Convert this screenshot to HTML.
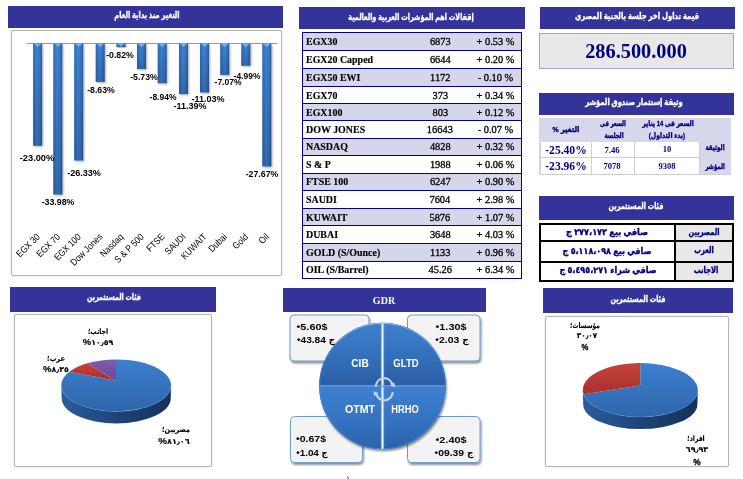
<!DOCTYPE html>
<html lang="ar"><head><meta charset="utf-8"><title>Market Summary</title>
<style>
html,body{margin:0;padding:0;background:#fff;}
body{width:743px;height:479px;position:relative;overflow:hidden;font-family:"Liberation Sans","DejaVu Sans",sans-serif;}
.abs{position:absolute;}
.ft,.ft2{position:absolute;white-space:pre;line-height:1;display:block;}
.hdr{position:absolute;background:#333399;}
.box{position:absolute;border:1px solid #b5b5b5;border-radius:2px;box-sizing:border-box;background:#fff;box-shadow:0 0 1.5px #c8c8c8;}
svg{position:absolute;left:0;top:0;}
svg text{font-family:"Liberation Sans","DejaVu Sans",sans-serif;}
</style></head><body>
<div class="hdr" style="left:8px;top:6px;width:275px;height:22px;"></div>
<span class="ft" id="t1" dir="rtl" style="left:147.20px;top:14.60px;font-size:8.6px;color:#fff;font-weight:bold;font-family:'Liberation Sans','DejaVu Sans',sans-serif;-webkit-text-stroke:0.35px #fff;transform:translate(-50%,-50%) scaleX(0.7729);">التغير منذ بداية العام</span>
<div class="hdr" style="left:299px;top:7px;width:226px;height:21.6px;"></div>
<span class="ft" id="t2" dir="rtl" style="left:411.05px;top:16.70px;font-size:8.6px;color:#fff;font-weight:bold;font-family:'Liberation Sans','DejaVu Sans',sans-serif;-webkit-text-stroke:0.35px #fff;transform:translate(-50%,-50%) scaleX(0.7533);">إقفالات اهم المؤشرات العربية والعالمية</span>
<div class="hdr" style="left:540px;top:7px;width:195px;height:22.2px;"></div>
<span class="ft" id="t3" dir="rtl" style="left:637.30px;top:16.45px;font-size:8.6px;color:#fff;font-weight:bold;font-family:'Liberation Sans','DejaVu Sans',sans-serif;-webkit-text-stroke:0.35px #fff;transform:translate(-50%,-50%) scaleX(0.7949);">قيمة تداول اخر جلسة بالجنية المصري</span>
<div class="hdr" style="left:539px;top:92.5px;width:195px;height:22.5px;"></div>
<span class="ft" id="t4" dir="rtl" style="left:633.95px;top:101.90px;font-size:8.6px;color:#fff;font-weight:bold;font-family:'Liberation Sans','DejaVu Sans',sans-serif;-webkit-text-stroke:0.35px #fff;transform:translate(-50%,-50%) scaleX(0.7876);">وثيقة إستثمار صندوق المؤشر</span>
<div class="hdr" style="left:539px;top:196.4px;width:194.70000000000005px;height:24.0px;"></div>
<span class="ft" id="t5" dir="rtl" style="left:636.25px;top:206.40px;font-size:8.6px;color:#fff;font-weight:bold;font-family:'Liberation Sans','DejaVu Sans',sans-serif;-webkit-text-stroke:0.35px #fff;transform:translate(-50%,-50%) scaleX(0.7506);">فئات المستثمرين</span>
<div class="hdr" style="left:10px;top:287px;width:206px;height:24.600000000000023px;"></div>
<span class="ft" id="t6" dir="rtl" style="left:113.60px;top:297.40px;font-size:8.6px;color:#fff;font-weight:bold;font-family:'Liberation Sans','DejaVu Sans',sans-serif;-webkit-text-stroke:0.35px #fff;transform:translate(-50%,-50%) scaleX(0.7355);">فئات المستثمرين</span>
<div class="hdr" style="left:283px;top:288px;width:203px;height:23.80000000000001px;"></div>
<span class="ft" id="t7" dir="ltr" style="left:384.30px;top:300.60px;font-size:10px;color:#fff;font-weight:bold;font-family:'Liberation Serif','DejaVu Serif',serif;transform:translate(-50%,-50%) scaleX(1.0019);">GDR</span>
<div class="hdr" style="left:543px;top:288px;width:190px;height:24.5px;"></div>
<span class="ft" id="t8" dir="rtl" style="left:637.75px;top:299.40px;font-size:8.6px;color:#fff;font-weight:bold;font-family:'Liberation Sans','DejaVu Sans',sans-serif;-webkit-text-stroke:0.35px #fff;transform:translate(-50%,-50%) scaleX(0.7508);">فئات المستثمرين</span>
<div class="box" style="left:11px;top:29.8px;width:270.8px;height:246.7px;"></div>
<div class="box" style="left:14px;top:314px;width:198px;height:153px;"></div>
<div class="box" style="left:545px;top:316px;width:184px;height:151px;"></div>
<div class="abs" style="left:539px;top:32.6px;width:195px;height:36.9px;box-sizing:border-box;background:#e8e8e8;border:1px solid #a3a3d9;"></div>
<span class="ft" id="t9" dir="ltr" style="left:636.15px;top:51.40px;font-size:20.5px;color:#000080;font-weight:bold;font-family:'Liberation Serif','DejaVu Serif',serif;transform:translate(-50%,-50%) scaleX(0.9914);">286.500.000</span>
<div class="abs" style="left:301.65px;top:31.849999999999998px;width:220.30px;height:247.00px;background:#00008b;"></div>
<div class="abs" style="left:302.75px;top:32.949999999999996px;width:218.10px;height:16.80px;background:#d5d6ea;"></div>
<span class="ft2" dir="ltr" style="left:306.3px;top:42.05px;font-size:10.4px;color:#000;font-weight:bold;font-family:'Liberation Serif','DejaVu Serif',serif;-webkit-text-stroke:0.15px #000;transform-origin:0 50%;transform:translate(0,-50%) scaleX(0.956);">EGX30</span>
<span class="ft" id="t10" dir="ltr" style="left:440.30px;top:42.05px;font-size:10.4px;color:#000;font-weight:normal;font-family:'Liberation Serif','DejaVu Serif',serif;-webkit-text-stroke:0.3px #000;transform:translate(-50%,-50%) scaleX(1.0000);">6873</span>
<span class="ft" id="t11" dir="ltr" style="left:495.45px;top:42.05px;font-size:10.4px;color:#000;font-weight:normal;font-family:'Liberation Serif','DejaVu Serif',serif;-webkit-text-stroke:0.3px #000;transform:translate(-50%,-50%) scaleX(1.0000);">+ 0.53 %</span>
<div class="abs" style="left:302.75px;top:50.849999999999994px;width:218.10px;height:16.90px;background:#ffffff;"></div>
<span class="ft2" dir="ltr" style="left:306.3px;top:60.00px;font-size:10.4px;color:#000;font-weight:bold;font-family:'Liberation Serif','DejaVu Serif',serif;-webkit-text-stroke:0.15px #000;transform-origin:0 50%;transform:translate(0,-50%) scaleX(0.956);">EGX20 Capped</span>
<span class="ft" id="t12" dir="ltr" style="left:440.30px;top:60.00px;font-size:10.4px;color:#000;font-weight:normal;font-family:'Liberation Serif','DejaVu Serif',serif;-webkit-text-stroke:0.3px #000;transform:translate(-50%,-50%) scaleX(1.0000);">6644</span>
<span class="ft" id="t13" dir="ltr" style="left:495.45px;top:60.00px;font-size:10.4px;color:#000;font-weight:normal;font-family:'Liberation Serif','DejaVu Serif',serif;-webkit-text-stroke:0.3px #000;transform:translate(-50%,-50%) scaleX(1.0000);">+ 0.20 %</span>
<div class="abs" style="left:302.75px;top:68.85px;width:218.10px;height:16.80px;background:#d5d6ea;"></div>
<span class="ft2" dir="ltr" style="left:306.3px;top:77.95px;font-size:10.4px;color:#000;font-weight:bold;font-family:'Liberation Serif','DejaVu Serif',serif;-webkit-text-stroke:0.15px #000;transform-origin:0 50%;transform:translate(0,-50%) scaleX(0.956);">EGX50 EWI</span>
<span class="ft" id="t14" dir="ltr" style="left:440.30px;top:77.95px;font-size:10.4px;color:#000;font-weight:normal;font-family:'Liberation Serif','DejaVu Serif',serif;-webkit-text-stroke:0.3px #000;transform:translate(-50%,-50%) scaleX(1.0000);">1172</span>
<span class="ft" id="t15" dir="ltr" style="left:495.45px;top:77.95px;font-size:10.4px;color:#000;font-weight:normal;font-family:'Liberation Serif','DejaVu Serif',serif;-webkit-text-stroke:0.3px #000;transform:translate(-50%,-50%) scaleX(1.0000);">- 0.10 %</span>
<div class="abs" style="left:302.75px;top:86.75px;width:218.10px;height:16.20px;background:#ffffff;"></div>
<span class="ft2" dir="ltr" style="left:306.3px;top:95.55px;font-size:10.4px;color:#000;font-weight:bold;font-family:'Liberation Serif','DejaVu Serif',serif;-webkit-text-stroke:0.15px #000;transform-origin:0 50%;transform:translate(0,-50%) scaleX(0.956);">EGX70</span>
<span class="ft" id="t16" dir="ltr" style="left:440.30px;top:95.55px;font-size:10.4px;color:#000;font-weight:normal;font-family:'Liberation Serif','DejaVu Serif',serif;-webkit-text-stroke:0.3px #000;transform:translate(-50%,-50%) scaleX(1.0000);">373</span>
<span class="ft" id="t17" dir="ltr" style="left:495.45px;top:95.55px;font-size:10.4px;color:#000;font-weight:normal;font-family:'Liberation Serif','DejaVu Serif',serif;-webkit-text-stroke:0.3px #000;transform:translate(-50%,-50%) scaleX(1.0000);">+ 0.34 %</span>
<div class="abs" style="left:302.75px;top:104.05px;width:218.10px;height:15.80px;background:#d5d6ea;"></div>
<span class="ft2" dir="ltr" style="left:306.3px;top:112.65px;font-size:10.4px;color:#000;font-weight:bold;font-family:'Liberation Serif','DejaVu Serif',serif;-webkit-text-stroke:0.15px #000;transform-origin:0 50%;transform:translate(0,-50%) scaleX(0.956);">EGX100</span>
<span class="ft" id="t18" dir="ltr" style="left:440.30px;top:112.65px;font-size:10.4px;color:#000;font-weight:normal;font-family:'Liberation Serif','DejaVu Serif',serif;-webkit-text-stroke:0.3px #000;transform:translate(-50%,-50%) scaleX(1.0000);">803</span>
<span class="ft" id="t19" dir="ltr" style="left:495.45px;top:112.65px;font-size:10.4px;color:#000;font-weight:normal;font-family:'Liberation Serif','DejaVu Serif',serif;-webkit-text-stroke:0.3px #000;transform:translate(-50%,-50%) scaleX(1.0000);">+ 0.12 %</span>
<div class="abs" style="left:302.75px;top:120.95px;width:218.10px;height:16.60px;background:#ffffff;"></div>
<span class="ft2" dir="ltr" style="left:306.3px;top:129.95px;font-size:10.4px;color:#000;font-weight:bold;font-family:'Liberation Serif','DejaVu Serif',serif;-webkit-text-stroke:0.15px #000;transform-origin:0 50%;transform:translate(0,-50%) scaleX(0.956);">DOW JONES</span>
<span class="ft" id="t20" dir="ltr" style="left:439.85px;top:129.95px;font-size:10.4px;color:#000;font-weight:normal;font-family:'Liberation Serif','DejaVu Serif',serif;-webkit-text-stroke:0.3px #000;transform:translate(-50%,-50%) scaleX(1.0000);">16643</span>
<span class="ft" id="t21" dir="ltr" style="left:495.45px;top:129.95px;font-size:10.4px;color:#000;font-weight:normal;font-family:'Liberation Serif','DejaVu Serif',serif;-webkit-text-stroke:0.3px #000;transform:translate(-50%,-50%) scaleX(1.0000);">- 0.07 %</span>
<div class="abs" style="left:302.75px;top:138.65px;width:218.10px;height:16.20px;background:#d5d6ea;"></div>
<span class="ft2" dir="ltr" style="left:306.3px;top:147.45px;font-size:10.4px;color:#000;font-weight:bold;font-family:'Liberation Serif','DejaVu Serif',serif;-webkit-text-stroke:0.15px #000;transform-origin:0 50%;transform:translate(0,-50%) scaleX(0.956);">NASDAQ</span>
<span class="ft" id="t22" dir="ltr" style="left:440.30px;top:147.45px;font-size:10.4px;color:#000;font-weight:normal;font-family:'Liberation Serif','DejaVu Serif',serif;-webkit-text-stroke:0.3px #000;transform:translate(-50%,-50%) scaleX(1.0000);">4828</span>
<span class="ft" id="t23" dir="ltr" style="left:495.45px;top:147.45px;font-size:10.4px;color:#000;font-weight:normal;font-family:'Liberation Serif','DejaVu Serif',serif;-webkit-text-stroke:0.3px #000;transform:translate(-50%,-50%) scaleX(1.0000);">+ 0.32 %</span>
<div class="abs" style="left:302.75px;top:155.95000000000002px;width:218.10px;height:16.60px;background:#ffffff;"></div>
<span class="ft2" dir="ltr" style="left:306.3px;top:164.95px;font-size:10.4px;color:#000;font-weight:bold;font-family:'Liberation Serif','DejaVu Serif',serif;-webkit-text-stroke:0.15px #000;transform-origin:0 50%;transform:translate(0,-50%) scaleX(0.956);">S &amp; P</span>
<span class="ft" id="t24" dir="ltr" style="left:440.30px;top:164.95px;font-size:10.4px;color:#000;font-weight:normal;font-family:'Liberation Serif','DejaVu Serif',serif;-webkit-text-stroke:0.3px #000;transform:translate(-50%,-50%) scaleX(1.0000);">1988</span>
<span class="ft" id="t25" dir="ltr" style="left:495.45px;top:164.95px;font-size:10.4px;color:#000;font-weight:normal;font-family:'Liberation Serif','DejaVu Serif',serif;-webkit-text-stroke:0.3px #000;transform:translate(-50%,-50%) scaleX(1.0000);">+ 0.06 %</span>
<div class="abs" style="left:302.75px;top:173.65px;width:218.10px;height:16.20px;background:#d5d6ea;"></div>
<span class="ft2" dir="ltr" style="left:306.3px;top:182.45px;font-size:10.4px;color:#000;font-weight:bold;font-family:'Liberation Serif','DejaVu Serif',serif;-webkit-text-stroke:0.15px #000;transform-origin:0 50%;transform:translate(0,-50%) scaleX(0.956);">FTSE 100</span>
<span class="ft" id="t26" dir="ltr" style="left:440.30px;top:182.45px;font-size:10.4px;color:#000;font-weight:normal;font-family:'Liberation Serif','DejaVu Serif',serif;-webkit-text-stroke:0.3px #000;transform:translate(-50%,-50%) scaleX(1.0000);">6247</span>
<span class="ft" id="t27" dir="ltr" style="left:495.45px;top:182.45px;font-size:10.4px;color:#000;font-weight:normal;font-family:'Liberation Serif','DejaVu Serif',serif;-webkit-text-stroke:0.3px #000;transform:translate(-50%,-50%) scaleX(1.0000);">+ 0.90 %</span>
<div class="abs" style="left:302.75px;top:190.95000000000002px;width:218.10px;height:16.60px;background:#ffffff;"></div>
<span class="ft2" dir="ltr" style="left:306.3px;top:199.95px;font-size:10.4px;color:#000;font-weight:bold;font-family:'Liberation Serif','DejaVu Serif',serif;-webkit-text-stroke:0.15px #000;transform-origin:0 50%;transform:translate(0,-50%) scaleX(0.956);">SAUDI</span>
<span class="ft" id="t28" dir="ltr" style="left:439.85px;top:199.95px;font-size:10.4px;color:#000;font-weight:normal;font-family:'Liberation Serif','DejaVu Serif',serif;-webkit-text-stroke:0.3px #000;transform:translate(-50%,-50%) scaleX(1.0000);">7604</span>
<span class="ft" id="t29" dir="ltr" style="left:495.45px;top:199.95px;font-size:10.4px;color:#000;font-weight:normal;font-family:'Liberation Serif','DejaVu Serif',serif;-webkit-text-stroke:0.3px #000;transform:translate(-50%,-50%) scaleX(1.0000);">+ 2.98 %</span>
<div class="abs" style="left:302.75px;top:208.65px;width:218.10px;height:16.50px;background:#d5d6ea;"></div>
<span class="ft2" dir="ltr" style="left:306.3px;top:217.60px;font-size:10.4px;color:#000;font-weight:bold;font-family:'Liberation Serif','DejaVu Serif',serif;-webkit-text-stroke:0.15px #000;transform-origin:0 50%;transform:translate(0,-50%) scaleX(0.956);">KUWAIT</span>
<span class="ft" id="t30" dir="ltr" style="left:439.85px;top:217.60px;font-size:10.4px;color:#000;font-weight:normal;font-family:'Liberation Serif','DejaVu Serif',serif;-webkit-text-stroke:0.3px #000;transform:translate(-50%,-50%) scaleX(1.0000);">5876</span>
<span class="ft" id="t31" dir="ltr" style="left:495.45px;top:217.60px;font-size:10.4px;color:#000;font-weight:normal;font-family:'Liberation Serif','DejaVu Serif',serif;-webkit-text-stroke:0.3px #000;transform:translate(-50%,-50%) scaleX(1.0000);">+ 1.07 %</span>
<div class="abs" style="left:302.75px;top:226.25px;width:218.10px;height:16.70px;background:#ffffff;"></div>
<span class="ft2" dir="ltr" style="left:306.3px;top:235.30px;font-size:10.4px;color:#000;font-weight:bold;font-family:'Liberation Serif','DejaVu Serif',serif;-webkit-text-stroke:0.15px #000;transform-origin:0 50%;transform:translate(0,-50%) scaleX(0.956);">DUBAI</span>
<span class="ft" id="t32" dir="ltr" style="left:440.30px;top:235.30px;font-size:10.4px;color:#000;font-weight:normal;font-family:'Liberation Serif','DejaVu Serif',serif;-webkit-text-stroke:0.3px #000;transform:translate(-50%,-50%) scaleX(1.0000);">3648</span>
<span class="ft" id="t33" dir="ltr" style="left:495.45px;top:235.30px;font-size:10.4px;color:#000;font-weight:normal;font-family:'Liberation Serif','DejaVu Serif',serif;-webkit-text-stroke:0.3px #000;transform:translate(-50%,-50%) scaleX(1.0000);">+ 4.03 %</span>
<div class="abs" style="left:302.75px;top:244.05px;width:218.10px;height:16.60px;background:#d5d6ea;"></div>
<span class="ft2" dir="ltr" style="left:306.3px;top:253.05px;font-size:10.4px;color:#000;font-weight:bold;font-family:'Liberation Serif','DejaVu Serif',serif;-webkit-text-stroke:0.15px #000;transform-origin:0 50%;transform:translate(0,-50%) scaleX(0.956);">GOLD (S/Ounce)</span>
<span class="ft" id="t34" dir="ltr" style="left:440.30px;top:253.05px;font-size:10.4px;color:#000;font-weight:normal;font-family:'Liberation Serif','DejaVu Serif',serif;-webkit-text-stroke:0.3px #000;transform:translate(-50%,-50%) scaleX(1.0000);">1133</span>
<span class="ft" id="t35" dir="ltr" style="left:495.45px;top:253.05px;font-size:10.4px;color:#000;font-weight:normal;font-family:'Liberation Serif','DejaVu Serif',serif;-webkit-text-stroke:0.3px #000;transform:translate(-50%,-50%) scaleX(1.0000);">+ 0.96 %</span>
<div class="abs" style="left:302.75px;top:261.75px;width:218.10px;height:16.00px;background:#ffffff;"></div>
<span class="ft2" dir="ltr" style="left:306.3px;top:270.45px;font-size:10.4px;color:#000;font-weight:bold;font-family:'Liberation Serif','DejaVu Serif',serif;-webkit-text-stroke:0.15px #000;transform-origin:0 50%;transform:translate(0,-50%) scaleX(0.956);">OIL (S/Barrel)</span>
<span class="ft" id="t36" dir="ltr" style="left:440.30px;top:270.45px;font-size:10.4px;color:#000;font-weight:normal;font-family:'Liberation Serif','DejaVu Serif',serif;-webkit-text-stroke:0.3px #000;transform:translate(-50%,-50%) scaleX(1.0000);">45.26</span>
<span class="ft" id="t37" dir="ltr" style="left:495.45px;top:270.45px;font-size:10.4px;color:#000;font-weight:normal;font-family:'Liberation Serif','DejaVu Serif',serif;-webkit-text-stroke:0.3px #000;transform:translate(-50%,-50%) scaleX(1.0000);">+ 6.34 %</span>
<div class="abs" style="left:539px;top:117.6px;width:192.00px;height:56.70px;background:#d7d7ec;"></div>
<div class="abs" style="left:541px;top:141.6px;width:158.00px;height:32.70px;background:#fff;"></div>
<div class="abs" style="left:540.3px;top:141.6px;width:1.00px;height:32.70px;background:#cfcfcf;"></div>
<div class="abs" style="left:591.1px;top:141.6px;width:1.00px;height:32.70px;background:#cfcfcf;"></div>
<div class="abs" style="left:634.1px;top:141.6px;width:1.00px;height:32.70px;background:#cfcfcf;"></div>
<div class="abs" style="left:698.5px;top:141.6px;width:1.00px;height:32.70px;background:#cfcfcf;"></div>
<div class="abs" style="left:539px;top:156.9px;width:160.00px;height:1.00px;background:#cfcfcf;"></div>
<div class="abs" style="left:539px;top:173.5px;width:192.00px;height:1.00px;background:#cfcfcf;"></div>
<span class="ft" id="t38" dir="ltr" style="left:565.65px;top:150.70px;font-size:11.8px;color:#000080;font-weight:bold;font-family:'Liberation Serif','DejaVu Serif',serif;transform:translate(-50%,-50%) scaleX(0.9819);">-25.40%</span>
<span class="ft" id="t39" dir="ltr" style="left:565.65px;top:167.20px;font-size:11.8px;color:#000080;font-weight:bold;font-family:'Liberation Serif','DejaVu Serif',serif;transform:translate(-50%,-50%) scaleX(0.9819);">-23.96%</span>
<span class="ft" id="t40" dir="ltr" style="left:612.25px;top:150.70px;font-size:8px;color:#000080;font-weight:bold;font-family:'Liberation Serif','DejaVu Serif',serif;transform:translate(-50%,-50%) scaleX(1.0802);">7.46</span>
<span class="ft" id="t41" dir="ltr" style="left:612.45px;top:167.00px;font-size:8px;color:#000080;font-weight:bold;font-family:'Liberation Serif','DejaVu Serif',serif;transform:translate(-50%,-50%) scaleX(1.0688);">7078</span>
<span class="ft" id="t42" dir="ltr" style="left:666.55px;top:149.80px;font-size:8px;color:#000080;font-weight:bold;font-family:'Liberation Serif','DejaVu Serif',serif;transform:translate(-50%,-50%) scaleX(1.0692);">10</span>
<span class="ft" id="t43" dir="ltr" style="left:667.35px;top:167.00px;font-size:8px;color:#000080;font-weight:bold;font-family:'Liberation Serif','DejaVu Serif',serif;transform:translate(-50%,-50%) scaleX(1.0669);">9308</span>
<span class="ft" id="t44" dir="rtl" style="left:565.80px;top:129.70px;font-size:7.6px;color:#000080;font-weight:bold;font-family:'Liberation Sans','DejaVu Sans',sans-serif;-webkit-text-stroke:0.35px #000080;transform:translate(-50%,-50%) scaleX(0.9100);">التغير %</span>
<span class="ft" id="t45" dir="rtl" style="left:613.20px;top:123.70px;font-size:7.6px;color:#000080;font-weight:bold;font-family:'Liberation Sans','DejaVu Sans',sans-serif;-webkit-text-stroke:0.35px #000080;transform:translate(-50%,-50%) scaleX(0.6996);">السعر فى</span>
<span class="ft" id="t46" dir="rtl" style="left:613.70px;top:135.65px;font-size:7.6px;color:#000080;font-weight:bold;font-family:'Liberation Sans','DejaVu Sans',sans-serif;-webkit-text-stroke:0.35px #000080;transform:translate(-50%,-50%) scaleX(0.7250);">الجلسة</span>
<span class="ft" id="t47" dir="rtl" style="left:668.15px;top:123.70px;font-size:7.6px;color:#000080;font-weight:bold;font-family:'Liberation Sans','DejaVu Sans',sans-serif;-webkit-text-stroke:0.35px #000080;transform:translate(-50%,-50%) scaleX(0.7798);">السعر فى 14 يناير</span>
<span class="ft" id="t48" dir="rtl" style="left:666.90px;top:136.20px;font-size:7.6px;color:#000080;font-weight:bold;font-family:'Liberation Sans','DejaVu Sans',sans-serif;-webkit-text-stroke:0.35px #000080;transform:translate(-50%,-50%) scaleX(0.8046);">(بدء التداول)</span>
<span class="ft" id="t49" dir="rtl" style="left:714.70px;top:148.30px;font-size:7.6px;color:#000080;font-weight:bold;font-family:'Liberation Sans','DejaVu Sans',sans-serif;-webkit-text-stroke:0.35px #000080;transform:translate(-50%,-50%) scaleX(0.7268);">الوثيقة</span>
<span class="ft" id="t50" dir="rtl" style="left:715.45px;top:166.90px;font-size:7.6px;color:#000080;font-weight:bold;font-family:'Liberation Sans','DejaVu Sans',sans-serif;-webkit-text-stroke:0.35px #000080;transform:translate(-50%,-50%) scaleX(0.7115);">المؤشر</span>
<div class="abs" style="left:539px;top:222.8px;width:195.00px;height:59.20px;background:#000;"></div>
<div class="abs" style="left:541px;top:224.6px;width:133.00px;height:15.40px;background:#fff;"></div>
<div class="abs" style="left:676px;top:224.6px;width:56.00px;height:15.40px;background:#e8e8e8;"></div>
<div class="abs" style="left:541px;top:242px;width:133.00px;height:18.50px;background:#fff;"></div>
<div class="abs" style="left:676px;top:242px;width:56.00px;height:18.50px;background:#e8e8e8;"></div>
<div class="abs" style="left:541px;top:262.5px;width:133.00px;height:17.50px;background:#fff;"></div>
<div class="abs" style="left:676px;top:262.5px;width:56.00px;height:17.50px;background:#e8e8e8;"></div>
<span class="ft" id="t51" dir="rtl" style="left:607.05px;top:231.70px;font-size:8.6px;color:#000080;font-weight:bold;font-family:'Liberation Sans','DejaVu Sans',sans-serif;-webkit-text-stroke:0.35px #000080;transform:translate(-50%,-50%) scaleX(0.9474);">صافي بيع ٣٧٧،١٧٣ ج</span>
<span class="ft" id="t52" dir="rtl" style="left:607.05px;top:250.80px;font-size:8.6px;color:#000080;font-weight:bold;font-family:'Liberation Sans','DejaVu Sans',sans-serif;-webkit-text-stroke:0.35px #000080;transform:translate(-50%,-50%) scaleX(0.9338);">صافي بيع ٥،١١٨،٠٩٨ ج</span>
<span class="ft" id="t53" dir="rtl" style="left:607.85px;top:270.30px;font-size:8.6px;color:#000080;font-weight:bold;font-family:'Liberation Sans','DejaVu Sans',sans-serif;-webkit-text-stroke:0.35px #000080;transform:translate(-50%,-50%) scaleX(0.9386);">صافي شراء ٥،٤٩٥،٢٧١ ج</span>
<span class="ft" id="t54" dir="rtl" style="left:704.35px;top:231.70px;font-size:8.6px;color:#000080;font-weight:bold;font-family:'Liberation Sans','DejaVu Sans',sans-serif;-webkit-text-stroke:0.35px #000080;transform:translate(-50%,-50%) scaleX(0.7733);">المصريين</span>
<span class="ft" id="t55" dir="rtl" style="left:704.20px;top:250.40px;font-size:8.6px;color:#000080;font-weight:bold;font-family:'Liberation Sans','DejaVu Sans',sans-serif;-webkit-text-stroke:0.35px #000080;transform:translate(-50%,-50%) scaleX(0.7753);">العرب</span>
<span class="ft" id="t56" dir="rtl" style="left:705.75px;top:270.40px;font-size:8.6px;color:#000080;font-weight:bold;font-family:'Liberation Sans','DejaVu Sans',sans-serif;-webkit-text-stroke:0.35px #000080;transform:translate(-50%,-50%) scaleX(0.7943);">الاجانب</span>
<svg width="743" height="479" viewBox="0 0 743 479">
<defs>
<linearGradient id="barg" x1="0" x2="1" y1="0" y2="0"><stop offset="0" stop-color="#2f6bb8"/><stop offset="0.45" stop-color="#4083d3"/><stop offset="0.8" stop-color="#3673c0"/><stop offset="1" stop-color="#28579a"/></linearGradient>
<linearGradient id="barv" x1="0" x2="0" y1="0" y2="1"><stop offset="0" stop-color="#000" stop-opacity="0"/><stop offset="1" stop-color="#000" stop-opacity="0.18"/></linearGradient>
<linearGradient id="pieTop" x1="0" x2="0" y1="0" y2="1"><stop offset="0" stop-color="#3d7fcf"/><stop offset="1" stop-color="#2f66ab"/></linearGradient>
<linearGradient id="pieSide" x1="0" x2="1" y1="0" y2="0"><stop offset="0" stop-color="#2a5c9e"/><stop offset="0.55" stop-color="#1d4274"/><stop offset="1" stop-color="#15305a"/></linearGradient>
<linearGradient id="redTop" x1="0" x2="0" y1="0" y2="1"><stop offset="0" stop-color="#c8403a"/><stop offset="1" stop-color="#a8302c"/></linearGradient>
<linearGradient id="purTop" x1="0" x2="0" y1="0" y2="1"><stop offset="0" stop-color="#7f5cb3"/><stop offset="1" stop-color="#6a4697"/></linearGradient>
<linearGradient id="gq1" x1="0" x2="0" y1="0" y2="1"><stop offset="0" stop-color="#3f80cd"/><stop offset="0.5" stop-color="#3471bd"/><stop offset="1" stop-color="#295da4"/></linearGradient>
<linearGradient id="gq2" x1="0" x2="0" y1="0" y2="1"><stop offset="0" stop-color="#3d80d0"/><stop offset="0.5" stop-color="#3674c2"/><stop offset="1" stop-color="#2c62ab"/></linearGradient>
<linearGradient id="grim" x1="0" x2="0" y1="0" y2="1"><stop offset="0" stop-color="#7fb2ea"/><stop offset="0.35" stop-color="#4c88d2" stop-opacity="0.5"/><stop offset="1" stop-color="#5a93d8" stop-opacity="0.6"/></linearGradient>
<filter id="sh" x="-20%" y="-20%" width="150%" height="150%"><feGaussianBlur in="SourceAlpha" stdDeviation="1"/><feOffset dx="1" dy="1.5"/><feComponentTransfer><feFuncA type="linear" slope="0.45"/></feComponentTransfer><feMerge><feMergeNode/><feMergeNode in="SourceGraphic"/></feMerge></filter>
<filter id="bsh" x="-30%" y="-5%" width="180%" height="115%"><feGaussianBlur in="SourceAlpha" stdDeviation="0.8"/><feOffset dx="1" dy="0.5"/><feComponentTransfer><feFuncA type="linear" slope="0.35"/></feComponentTransfer><feMerge><feMergeNode/><feMergeNode in="SourceGraphic"/></feMerge></filter>
</defs>
<line x1="27" y1="43.5" x2="277.5" y2="43.5" stroke="#9a9a9a" stroke-width="1"/>
<g filter="url(#bsh)"><rect x="33.10" y="43.5" width="9" height="102.2" fill="url(#barg)"/><rect x="33.10" y="43.5" width="9" height="102.2" fill="url(#barv)"/></g>
<path d="M33.90 43.5 L41.30 43.5 L37.60 47.1 Z" fill="#6db6f6"/>
<g filter="url(#bsh)"><rect x="53.30" y="43.5" width="9" height="151.0" fill="url(#barg)"/><rect x="53.30" y="43.5" width="9" height="151.0" fill="url(#barv)"/></g>
<path d="M54.10 43.5 L61.50 43.5 L57.80 47.1 Z" fill="#6db6f6"/>
<g filter="url(#bsh)"><rect x="74.20" y="43.5" width="9" height="117.0" fill="url(#barg)"/><rect x="74.20" y="43.5" width="9" height="117.0" fill="url(#barv)"/></g>
<path d="M75.00 43.5 L82.40 43.5 L78.70 47.1 Z" fill="#6db6f6"/>
<g filter="url(#bsh)"><rect x="95.70" y="43.5" width="9" height="38.4" fill="url(#barg)"/><rect x="95.70" y="43.5" width="9" height="38.4" fill="url(#barv)"/></g>
<path d="M96.50 43.5 L103.90 43.5 L100.20 47.1 Z" fill="#6db6f6"/>
<g filter="url(#bsh)"><rect x="116.50" y="43.5" width="9" height="3.6" fill="url(#barg)"/><rect x="116.50" y="43.5" width="9" height="3.6" fill="url(#barv)"/></g>
<path d="M117.30 43.5 L124.70 43.5 L121.00 46.4 Z" fill="#6db6f6"/>
<g filter="url(#bsh)"><rect x="137.00" y="43.5" width="9" height="25.5" fill="url(#barg)"/><rect x="137.00" y="43.5" width="9" height="25.5" fill="url(#barv)"/></g>
<path d="M137.80 43.5 L145.20 43.5 L141.50 47.1 Z" fill="#6db6f6"/>
<g filter="url(#bsh)"><rect x="157.70" y="43.5" width="9" height="39.7" fill="url(#barg)"/><rect x="157.70" y="43.5" width="9" height="39.7" fill="url(#barv)"/></g>
<path d="M158.50 43.5 L165.90 43.5 L162.20 47.1 Z" fill="#6db6f6"/>
<g filter="url(#bsh)"><rect x="179.00" y="43.5" width="9" height="50.6" fill="url(#barg)"/><rect x="179.00" y="43.5" width="9" height="50.6" fill="url(#barv)"/></g>
<path d="M179.80 43.5 L187.20 43.5 L183.50 47.1 Z" fill="#6db6f6"/>
<g filter="url(#bsh)"><rect x="200.00" y="43.5" width="9" height="49.0" fill="url(#barg)"/><rect x="200.00" y="43.5" width="9" height="49.0" fill="url(#barv)"/></g>
<path d="M200.80 43.5 L208.20 43.5 L204.50 47.1 Z" fill="#6db6f6"/>
<g filter="url(#bsh)"><rect x="220.20" y="43.5" width="9" height="31.4" fill="url(#barg)"/><rect x="220.20" y="43.5" width="9" height="31.4" fill="url(#barv)"/></g>
<path d="M221.00 43.5 L228.40 43.5 L224.70 47.1 Z" fill="#6db6f6"/>
<g filter="url(#bsh)"><rect x="241.30" y="43.5" width="9" height="22.2" fill="url(#barg)"/><rect x="241.30" y="43.5" width="9" height="22.2" fill="url(#barv)"/></g>
<path d="M242.10 43.5 L249.50 43.5 L245.80 47.1 Z" fill="#6db6f6"/>
<g filter="url(#bsh)"><rect x="262.30" y="43.5" width="9" height="123.0" fill="url(#barg)"/><rect x="262.30" y="43.5" width="9" height="123.0" fill="url(#barv)"/></g>
<path d="M263.10 43.5 L270.50 43.5 L266.80 47.1 Z" fill="#6db6f6"/>
<text transform="translate(40.5,237.4) rotate(-45) scale(0.87,1)" font-size="9.5" text-anchor="end" fill="#000">EGX 30</text>
<text transform="translate(60.7,237.4) rotate(-45) scale(0.87,1)" font-size="9.5" text-anchor="end" fill="#000">EGX 70</text>
<text transform="translate(81.6,237.4) rotate(-45) scale(0.87,1)" font-size="9.5" text-anchor="end" fill="#000">EGX 100</text>
<text transform="translate(103.1,237.4) rotate(-45) scale(0.87,1)" font-size="9.5" text-anchor="end" fill="#000">Dow Jones</text>
<text transform="translate(123.9,237.4) rotate(-45) scale(0.87,1)" font-size="9.5" text-anchor="end" fill="#000">Nasdaq</text>
<text transform="translate(144.4,237.4) rotate(-45) scale(0.87,1)" font-size="9.5" text-anchor="end" fill="#000">S &amp; P 500</text>
<text transform="translate(165.1,237.4) rotate(-45) scale(0.87,1)" font-size="9.5" text-anchor="end" fill="#000">FTSE</text>
<text transform="translate(186.4,237.4) rotate(-45) scale(0.87,1)" font-size="9.5" text-anchor="end" fill="#000">SAUDI</text>
<text transform="translate(207.4,237.4) rotate(-45) scale(0.87,1)" font-size="9.5" text-anchor="end" fill="#000">KUWAIT</text>
<text transform="translate(227.6,237.4) rotate(-45) scale(0.87,1)" font-size="9.5" text-anchor="end" fill="#000">Dubai</text>
<text transform="translate(248.7,237.4) rotate(-45) scale(0.87,1)" font-size="9.5" text-anchor="end" fill="#000">Gold</text>
<text transform="translate(269.7,237.4) rotate(-45) scale(0.87,1)" font-size="9.5" text-anchor="end" fill="#000">Oil</text>
<path d="M61.300000000000004 385.4 A54.9 26 0 0 0 171.1 385.4 L170.7 398.4 A54.5 25 0 0 1 61.7 398.4 Z" fill="url(#pieSide)"/>
<path d="M116 380.7 L116.00 359.40 A54.9 26 0 1 1 69.34 371.85 Z" fill="url(#pieTop)"/>
<path d="M116 380.7 L69.34 371.85 A54.9 26 0 0 1 87.20 363.32 Z" fill="url(#redTop)"/>
<path d="M116 380.7 L87.20 363.32 A54.9 26 0 0 1 116.00 359.40 Z" fill="url(#purTop)"/>
<path d="M61.300000000000004 385.4 A54.9 26 0 0 0 171.1 385.4" fill="none" stroke="#5a93d8" stroke-width="0.7" opacity="0.45"/>
<path d="M582.8 390 A57.5 27 0 0 0 697.8 390 L697.4 404.5 A57.1 24.5 0 0 1 583.1999999999999 404.5 Z" fill="url(#pieSide)"/>
<path d="M640.2 385.5 L640.20 363.00 A57.5 27 0 1 1 583.53 394.28 Z" fill="url(#pieTop)"/>
<path d="M640.2 385.5 L583.53 394.28 A57.5 27 0 0 1 640.20 363.00 Z" fill="url(#redTop)"/>
<path d="M582.8 390 A57.5 27 0 0 0 697.8 390" fill="none" stroke="#5a93d8" stroke-width="0.7" opacity="0.45"/>
<rect x="290" y="315" width="79" height="46" rx="4" ry="4" fill="#f3f3f3" stroke="#6d9bd3" stroke-width="1" filter="url(#sh)"/>
<rect x="407.5" y="315" width="72.5" height="46" rx="4" ry="4" fill="#f3f3f3" stroke="#6d9bd3" stroke-width="1" filter="url(#sh)"/>
<rect x="290.5" y="416.5" width="72.0" height="46.0" rx="4" ry="4" fill="#f3f3f3" stroke="#6d9bd3" stroke-width="1" filter="url(#sh)"/>
<rect x="407.5" y="416.5" width="72.5" height="46.0" rx="4" ry="4" fill="#f3f3f3" stroke="#6d9bd3" stroke-width="1" filter="url(#sh)"/>
<clipPath id="gclip"><circle cx="382.5" cy="386" r="63.3"/></clipPath>
<circle cx="382.5" cy="386" r="63.3" fill="#2f66b0" filter="url(#sh)"/>
<g clip-path="url(#gclip)"><rect x="319.2" y="322.7" width="126.6" height="63.3" fill="url(#gq1)"/><rect x="319.2" y="386" width="126.6" height="63.3" fill="url(#gq2)"/><circle cx="382.5" cy="386" r="62.699999999999996" fill="none" stroke="url(#grim)" stroke-width="1.2"/></g>
<line x1="382.5" y1="323.2" x2="382.5" y2="448.8" stroke="#8fbdee" stroke-width="3.2" opacity="0.9"/>
<line x1="382.5" y1="323.2" x2="382.5" y2="448.8" stroke="#eef6fd" stroke-width="1.3"/>
<line x1="319.7" y1="385.8" x2="445.3" y2="385.8" stroke="#93a9c6" stroke-width="1"/>
<line x1="319.7" y1="386.9" x2="445.3" y2="386.9" stroke="#4d8ad6" stroke-width="0.9" opacity="0.8"/>
<g fill="none" stroke="#c3d2e8" stroke-width="2.3"><path d="M375.6 386.6 A8.8 10.4 0 0 1 392.6 385.2"/><path d="M392.9 392.2 A8.8 10.4 0 0 1 376 393.4"/></g>
<path d="M395.2 387.4 L390.0 385.6 L394.4 382.4 Z" fill="#c3d2e8"/><path d="M373.4 391.2 L378.6 393.0 L374.2 396.2 Z" fill="#c3d2e8"/>
<text x="348.5" y="483.2" font-size="10" fill="#2222aa" text-anchor="middle" font-family="'Liberation Serif','DejaVu Sans',serif">١</text>
</svg>
<span class="ft" id="t57" dir="ltr" style="left:36.65px;top:158.30px;font-size:9px;color:#000;font-weight:bold;font-family:'Liberation Sans','DejaVu Sans',sans-serif;transform:translate(-50%,-50%) scaleX(1.0299);">-23.00%</span>
<span class="ft" id="t58" dir="ltr" style="left:58.25px;top:202.20px;font-size:9px;color:#000;font-weight:bold;font-family:'Liberation Sans','DejaVu Sans',sans-serif;transform:translate(-50%,-50%) scaleX(0.9761);">-33.98%</span>
<span class="ft" id="t59" dir="ltr" style="left:83.75px;top:172.80px;font-size:9px;color:#000;font-weight:bold;font-family:'Liberation Sans','DejaVu Sans',sans-serif;transform:translate(-50%,-50%) scaleX(1.0027);">-26.33%</span>
<span class="ft" id="t60" dir="ltr" style="left:100.60px;top:90.20px;font-size:9px;color:#000;font-weight:bold;font-family:'Liberation Sans','DejaVu Sans',sans-serif;transform:translate(-50%,-50%) scaleX(0.9702);">-8.63%</span>
<span class="ft" id="t61" dir="ltr" style="left:120.00px;top:54.80px;font-size:9px;color:#000;font-weight:bold;font-family:'Liberation Sans','DejaVu Sans',sans-serif;transform:translate(-50%,-50%) scaleX(0.9683);">-0.82%</span>
<span class="ft" id="t62" dir="ltr" style="left:144.45px;top:76.60px;font-size:9px;color:#000;font-weight:bold;font-family:'Liberation Sans','DejaVu Sans',sans-serif;transform:translate(-50%,-50%) scaleX(0.9692);">-5.73%</span>
<span class="ft" id="t63" dir="ltr" style="left:162.90px;top:97.20px;font-size:9px;color:#000;font-weight:bold;font-family:'Liberation Sans','DejaVu Sans',sans-serif;transform:translate(-50%,-50%) scaleX(0.9410);">-8.94%</span>
<span class="ft" id="t64" dir="ltr" style="left:189.65px;top:105.90px;font-size:9px;color:#000;font-weight:bold;font-family:'Liberation Sans','DejaVu Sans',sans-serif;transform:translate(-50%,-50%) scaleX(1.0028);">-11.39%</span>
<span class="ft" id="t65" dir="ltr" style="left:207.75px;top:99.00px;font-size:9px;color:#000;font-weight:bold;font-family:'Liberation Sans','DejaVu Sans',sans-serif;transform:translate(-50%,-50%) scaleX(1.0025);">-11.03%</span>
<span class="ft" id="t66" dir="ltr" style="left:228.00px;top:82.40px;font-size:9px;color:#000;font-weight:bold;font-family:'Liberation Sans','DejaVu Sans',sans-serif;transform:translate(-50%,-50%) scaleX(0.9403);">-7.07%</span>
<span class="ft" id="t67" dir="ltr" style="left:246.50px;top:75.70px;font-size:9px;color:#000;font-weight:bold;font-family:'Liberation Sans','DejaVu Sans',sans-serif;transform:translate(-50%,-50%) scaleX(0.9414);">-4.99%</span>
<span class="ft" id="t68" dir="ltr" style="left:262.35px;top:173.70px;font-size:9px;color:#000;font-weight:bold;font-family:'Liberation Sans','DejaVu Sans',sans-serif;transform:translate(-50%,-50%) scaleX(0.9765);">-27.67%</span>
<span class="ft" id="t69" dir="rtl" style="left:97.85px;top:331.50px;font-size:7.6px;color:#000;font-weight:bold;font-family:'Liberation Sans','DejaVu Sans',sans-serif;-webkit-text-stroke:0.15px #000;transform:translate(-50%,-50%) scaleX(0.8127);">اجانب؛</span>
<span class="ft" id="t70" dir="rtl" style="left:97.55px;top:343.10px;font-size:7.6px;color:#000;font-weight:bold;font-family:'Liberation Sans','DejaVu Sans',sans-serif;-webkit-text-stroke:0.15px #000;transform:translate(-50%,-50%) scaleX(1.0311);">١٠٫٥٩<span style="font-size:9.2px">%</span></span>
<span class="ft" id="t71" dir="rtl" style="left:55.65px;top:358.90px;font-size:7.6px;color:#000;font-weight:bold;font-family:'Liberation Sans','DejaVu Sans',sans-serif;-webkit-text-stroke:0.15px #000;transform:translate(-50%,-50%) scaleX(0.8743);">عرب؛</span>
<span class="ft" id="t72" dir="rtl" style="left:56.05px;top:370.20px;font-size:7.6px;color:#000;font-weight:bold;font-family:'Liberation Sans','DejaVu Sans',sans-serif;-webkit-text-stroke:0.15px #000;transform:translate(-50%,-50%) scaleX(1.0376);">٨٫٣٥<span style="font-size:9.2px">%</span></span>
<span class="ft" id="t73" dir="rtl" style="left:175.90px;top:430.00px;font-size:7.6px;color:#000;font-weight:bold;font-family:'Liberation Sans','DejaVu Sans',sans-serif;-webkit-text-stroke:0.15px #000;transform:translate(-50%,-50%) scaleX(0.8630);">مصريين؛</span>
<span class="ft" id="t74" dir="rtl" style="left:174.45px;top:441.60px;font-size:7.6px;color:#000;font-weight:bold;font-family:'Liberation Sans','DejaVu Sans',sans-serif;-webkit-text-stroke:0.15px #000;transform:translate(-50%,-50%) scaleX(1.0651);">٨١٫٠٦<span style="font-size:9.2px">%</span></span>
<span class="ft" id="t75" dir="rtl" style="left:585.30px;top:326.00px;font-size:7.6px;color:#000;font-weight:bold;font-family:'Liberation Sans','DejaVu Sans',sans-serif;-webkit-text-stroke:0.15px #000;transform:translate(-50%,-50%) scaleX(0.7810);">مؤسسات؛</span>
<span class="ft" id="t76" dir="rtl" style="left:586.50px;top:336.00px;font-size:7.6px;color:#000;font-weight:bold;font-family:'Liberation Sans','DejaVu Sans',sans-serif;-webkit-text-stroke:0.15px #000;transform:translate(-50%,-50%) scaleX(0.9629);">٣٠٫٠٧</span>
<span class="ft" id="t77" dir="rtl" style="left:585.30px;top:348.40px;font-size:9.2px;color:#000;font-weight:bold;font-family:'Liberation Sans','DejaVu Sans',sans-serif;-webkit-text-stroke:0.35px #000;transform:translate(-50%,-50%) scaleX(0.8282);">%</span>
<span class="ft" id="t78" dir="rtl" style="left:695.95px;top:439.30px;font-size:7.6px;color:#000;font-weight:bold;font-family:'Liberation Sans','DejaVu Sans',sans-serif;-webkit-text-stroke:0.15px #000;transform:translate(-50%,-50%) scaleX(0.7923);">افراد؛</span>
<span class="ft" id="t79" dir="rtl" style="left:697.00px;top:450.00px;font-size:7.6px;color:#000;font-weight:bold;font-family:'Liberation Sans','DejaVu Sans',sans-serif;-webkit-text-stroke:0.15px #000;transform:translate(-50%,-50%) scaleX(1.0447);">٦٩٫٩٣</span>
<span class="ft" id="t80" dir="rtl" style="left:696.50px;top:462.50px;font-size:9.2px;color:#000;font-weight:bold;font-family:'Liberation Sans','DejaVu Sans',sans-serif;-webkit-text-stroke:0.35px #000;transform:translate(-50%,-50%) scaleX(0.9016);">%</span>
<span class="ft" id="t81" dir="ltr" style="left:359.55px;top:363.00px;font-size:10.6px;color:#fff;font-weight:bold;font-family:'Liberation Sans','DejaVu Sans',sans-serif;transform:translate(-50%,-50%) scaleX(0.9558);">CIB</span>
<span class="ft" id="t82" dir="ltr" style="left:405.95px;top:363.00px;font-size:10.6px;color:#fff;font-weight:bold;font-family:'Liberation Sans','DejaVu Sans',sans-serif;transform:translate(-50%,-50%) scaleX(0.9007);">GLTD</span>
<span class="ft" id="t83" dir="ltr" style="left:360.25px;top:409.00px;font-size:10.6px;color:#fff;font-weight:bold;font-family:'Liberation Sans','DejaVu Sans',sans-serif;transform:translate(-50%,-50%) scaleX(1.0013);">OTMT</span>
<span class="ft" id="t84" dir="ltr" style="left:404.75px;top:409.00px;font-size:10.6px;color:#fff;font-weight:bold;font-family:'Liberation Sans','DejaVu Sans',sans-serif;transform:translate(-50%,-50%) scaleX(0.8816);">HRHO</span>
<span class="ft" id="t85" dir="ltr" style="left:311.60px;top:327.00px;font-size:9.9px;color:#000;font-weight:bold;font-family:'Liberation Sans','DejaVu Sans',sans-serif;transform:translate(-50%,-50%) scaleX(1.0964);">•5.60$</span>
<span class="ft" id="t86" dir="ltr" style="left:315.55px;top:340.10px;font-size:9.9px;color:#000;font-weight:bold;font-family:'Liberation Sans','DejaVu Sans',sans-serif;transform:translate(-50%,-50%) scaleX(1.0243);">•43.84 <span style="font-size:8.6px">ج</span></span>
<span class="ft" id="t87" dir="ltr" style="left:450.80px;top:327.00px;font-size:9.9px;color:#000;font-weight:bold;font-family:'Liberation Sans','DejaVu Sans',sans-serif;transform:translate(-50%,-50%) scaleX(1.0964);">•1.30$</span>
<span class="ft" id="t88" dir="ltr" style="left:451.50px;top:340.10px;font-size:9.9px;color:#000;font-weight:bold;font-family:'Liberation Sans','DejaVu Sans',sans-serif;transform:translate(-50%,-50%) scaleX(1.0590);">•2.03 <span style="font-size:8.6px">ج</span></span>
<span class="ft" id="t89" dir="ltr" style="left:311.45px;top:439.35px;font-size:9.9px;color:#000;font-weight:bold;font-family:'Liberation Sans','DejaVu Sans',sans-serif;transform:translate(-50%,-50%) scaleX(1.0646);">•0.67$</span>
<span class="ft" id="t90" dir="ltr" style="left:312.25px;top:452.70px;font-size:9.9px;color:#000;font-weight:bold;font-family:'Liberation Sans','DejaVu Sans',sans-serif;transform:translate(-50%,-50%) scaleX(1.0011);">•1.04 <span style="font-size:8.6px">ج</span></span>
<span class="ft" id="t91" dir="ltr" style="left:450.80px;top:439.80px;font-size:9.9px;color:#000;font-weight:bold;font-family:'Liberation Sans','DejaVu Sans',sans-serif;transform:translate(-50%,-50%) scaleX(1.0964);">•2.40$</span>
<span class="ft" id="t92" dir="ltr" style="left:453.65px;top:452.70px;font-size:9.9px;color:#000;font-weight:bold;font-family:'Liberation Sans','DejaVu Sans',sans-serif;transform:translate(-50%,-50%) scaleX(1.0493);">•09.39 <span style="font-size:8.6px">ج</span></span>
</body></html>
